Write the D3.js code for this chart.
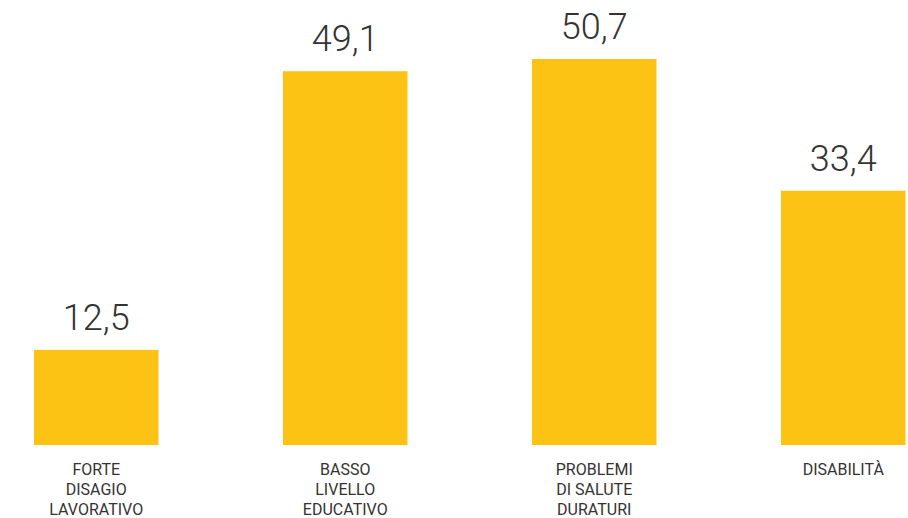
<!DOCTYPE html>
<html>
<head>
<meta charset="utf-8">
<script src="https://cdn.jsdelivr.net/npm/d3@7"></script>
<style>
  html, body { margin: 0; padding: 0; background: #fff; }
  svg { display: block; }
</style>
</head>
<body>
<svg id="chart" width="908" height="518"></svg>
<script>
var categories = ['FORTE DISAGIO LAVORATIVO', 'BASSO LIVELLO EDUCATIVO', 'PROBLEMI DI SALUTE DURATURI', 'DISABILITÀ'];
var labelLines = [['FORTE', 'DISAGIO', 'LAVORATIVO'], ['BASSO', 'LIVELLO', 'EDUCATIVO'], ['PROBLEMI', 'DI SALUTE', 'DURATURI'], ['DISABILITÀ']];
var values = [12.5, 49.1, 50.7, 33.4];

var BAR_COLOR = '#fdc314';
var TEXT_COLOR = '#333333';

var svg = d3.select('#chart');

var x = d3.scaleBand()
    .domain(categories)
    .range([34, 905.5])
    .paddingInner(0.5)
    .paddingOuter(0);

var y = d3.scaleLinear()
    .domain([0, 55])
    .range([445, 445 - 55 * 7.613]);

var fmt = function(v) { return d3.format('.1f')(v).replace('.', ','); };

svg.append('g').selectAll('rect')
    .data(values)
    .enter().append('rect')
    .attr('x', function(d, i) { return x(categories[i]); })
    .attr('y', function(d) { return y(d); })
    .attr('width', x.bandwidth())
    .attr('height', function(d) { return y(0) - y(d); })
    .attr('fill', BAR_COLOR);

svg.append('g').selectAll('text')
    .data(values)
    .enter().append('text')
    .attr('x', function(d, i) { return x(categories[i]) + x.bandwidth() / 2; })
    .attr('y', function(d) { return y(d) - 20; })
    .attr('text-anchor', 'middle')
    .style('font-family', 'Roboto, sans-serif')
    .style('font-weight', 300)
    .style('font-size', '36px')
    .attr('fill', TEXT_COLOR)
    .text(fmt);

svg.append('g').selectAll('text')
    .data(categories)
    .enter().append('text')
    .attr('text-anchor', 'middle')
    .style('font-family', 'Roboto, sans-serif')
    .style('font-size', '16px')
    .attr('fill', TEXT_COLOR)
    .each(function(c, i) {
        var t = d3.select(this);
        labelLines[i].forEach(function(line, j) {
            t.append('tspan')
                .attr('x', x(c) + x.bandwidth() / 2)
                .attr('y', 475 + j * 20)
                .text(line);
        });
    });
</script>
</body>
</html>
